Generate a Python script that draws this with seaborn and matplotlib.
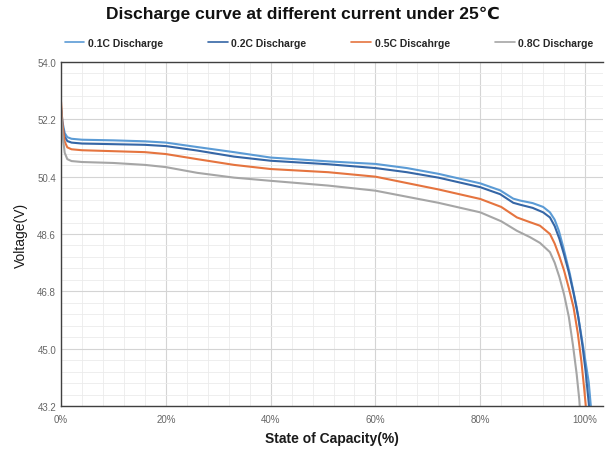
import numpy as np
import pandas as pd
import matplotlib
matplotlib.use("Agg")
import matplotlib.pyplot as plt
from matplotlib.ticker import MultipleLocator, FuncFormatter
import seaborn as sns

# values (state of capacity %, voltage V)
labels = ["0.1C Discharge", "0.2C Discharge", "0.5C Discahrge", "0.8C Discharge"]
colors = ["#5b9bd5", "#3566a6", "#e5743f", "#a6a6a6"]

soc_01 = [0, 0.3, 0.7, 1.2, 2, 4, 10, 16, 20, 26, 33, 40, 51, 60, 66, 72, 80, 83.8,
          86.3, 87.6, 90, 92, 93.3, 94.2, 95.0, 95.9, 97.1, 98.4, 99.7, 100.7, 101.1, 101.3]
volt_01 = [52.55, 52.1, 51.77, 51.64, 51.59, 51.56, 51.54, 51.51, 51.47, 51.33, 51.17, 51.00,
           50.88, 50.80, 50.67, 50.49, 50.19, 49.97, 49.71, 49.65, 49.57, 49.45, 49.28, 49.05,
           48.70, 48.15, 47.35, 46.30, 45.00, 43.95, 43.20, 42.80]

soc_02 = [0, 0.3, 0.7, 1.2, 2, 4, 10, 16, 20, 26, 33, 40, 51, 60, 66, 72, 80, 83.8,
          86.3, 87.6, 90, 92, 93.3, 94.2, 95.1, 96.0, 96.9, 97.8, 98.7, 99.5, 100.1, 100.7, 100.9]
volt_02 = [52.5, 52.0, 51.65, 51.52, 51.47, 51.44, 51.42, 51.40, 51.36, 51.22, 51.03, 50.90,
           50.79, 50.67, 50.54, 50.37, 50.07, 49.85, 49.58, 49.52, 49.42, 49.28, 49.12, 48.85,
           48.45, 47.95, 47.40, 46.75, 46.00, 45.10, 44.30, 43.30, 42.90]

soc_05 = [0, 0.3, 0.7, 1.2, 2, 4, 10, 16, 20, 26, 33, 40, 51, 60, 66, 72, 80, 84,
          87, 89, 91.4, 93.3, 94.2, 95.1, 96.0, 96.9, 97.8, 98.6, 99.3, 99.8, 100.2, 100.4]
volt_05 = [52.75, 52.0, 51.5, 51.32, 51.26, 51.23, 51.20, 51.17, 51.11, 50.95, 50.77, 50.64,
           50.54, 50.40, 50.20, 50.00, 49.70, 49.45, 49.12, 49.00, 48.86, 48.60, 48.30, 47.90,
           47.45, 46.90, 46.30, 45.50, 44.60, 43.80, 43.10, 42.70]

soc_08 = [0, 0.3, 0.7, 1.2, 2, 4, 10, 16, 20, 26, 33, 40, 51, 60, 66, 72, 80, 84,
          87, 89.5, 91.4, 93.3, 94.2, 95.1, 96.0, 96.9, 97.7, 98.4, 98.9, 99.1]
volt_08 = [52.6, 51.7, 51.15, 50.95, 50.89, 50.86, 50.83, 50.77, 50.70, 50.52, 50.37, 50.27,
           50.12, 49.96, 49.77, 49.58, 49.28, 49.00, 48.70, 48.50, 48.32, 48.03, 47.70, 47.25,
           46.70, 46.00, 45.10, 44.20, 43.40, 42.90]

y_ticks = [43.2, 45.0, 46.8, 48.6, 50.4, 52.2, 54.0]

frames = []
for lab, s, v in zip(labels, [soc_01, soc_02, soc_05, soc_08],
                     [volt_01, volt_02, volt_05, volt_08]):
    frames.append(pd.DataFrame({"soc": s, "volt": v, "series": lab}))
df = pd.concat(frames, ignore_index=True)

sns.set_style("white")
plt.rcParams["font.family"] = ["Liberation Sans", "DejaVu Sans"]

fig = plt.figure(figsize=(6.06, 4.52), dpi=100)
ax = fig.add_axes([0.1007, 0.0996, 0.895, 0.761])

sns.lineplot(data=df, x="soc", y="volt", hue="series", hue_order=labels,
             palette=colors, linewidth=1.5, sort=False, legend=False, ax=ax)

ax.set_xlim(0, 103.5)
ax.set_ylim(43.2, 54.0)
ax.set_yticks(y_ticks)
ax.yaxis.set_minor_locator(MultipleLocator(0.36))
ax.xaxis.set_major_locator(MultipleLocator(20))
ax.xaxis.set_minor_locator(MultipleLocator(4))
ax.xaxis.set_major_formatter(FuncFormatter(lambda v, p: f"{v:.0f}%" if v <= 100 else ""))
ax.yaxis.set_major_formatter(FuncFormatter(lambda v, p: f"{v:.1f}"))

ax.grid(which="major", color="#d4d4d4", linewidth=0.8)
ax.grid(which="minor", color="#ebebeb", linewidth=0.6)
ax.set_axisbelow(True)

ax.tick_params(axis="both", which="both", direction="in", colors="#404040",
               labelcolor="#666666", labelsize=7)
ax.tick_params(which="major", length=4, width=0.8)
ax.tick_params(which="minor", length=3, width=0.8)
ax.tick_params(axis="x", pad=6)

for side in ["left", "bottom", "top"]:
    ax.spines[side].set_color("#404040")
    ax.spines[side].set_linewidth(1.0)
ax.spines["right"].set_visible(False)

ax.set_xlabel("State of Capacity(%)", fontsize=10, fontweight="bold", color="#1a1a1a", labelpad=5)
ax.set_ylabel("Voltage(V)", fontsize=10, color="#1a1a1a", labelpad=7)

fig.suptitle("Discharge curve at different current under 25\u2103", x=0.5, y=0.985,
             fontsize=12.5, fontweight="bold", color="#111111")

handles = [plt.Line2D([], [], color=c, linewidth=1.2) for c in colors]
fig.legend(handles, labels, loc="center", bbox_to_anchor=(0.543, 0.903), ncol=4,
           frameon=False, prop={"size": 7.5, "weight": "bold"}, handlelength=1.9,
           handletextpad=0.35, columnspacing=4.3)

fig.savefig("out.png", dpi=100)
